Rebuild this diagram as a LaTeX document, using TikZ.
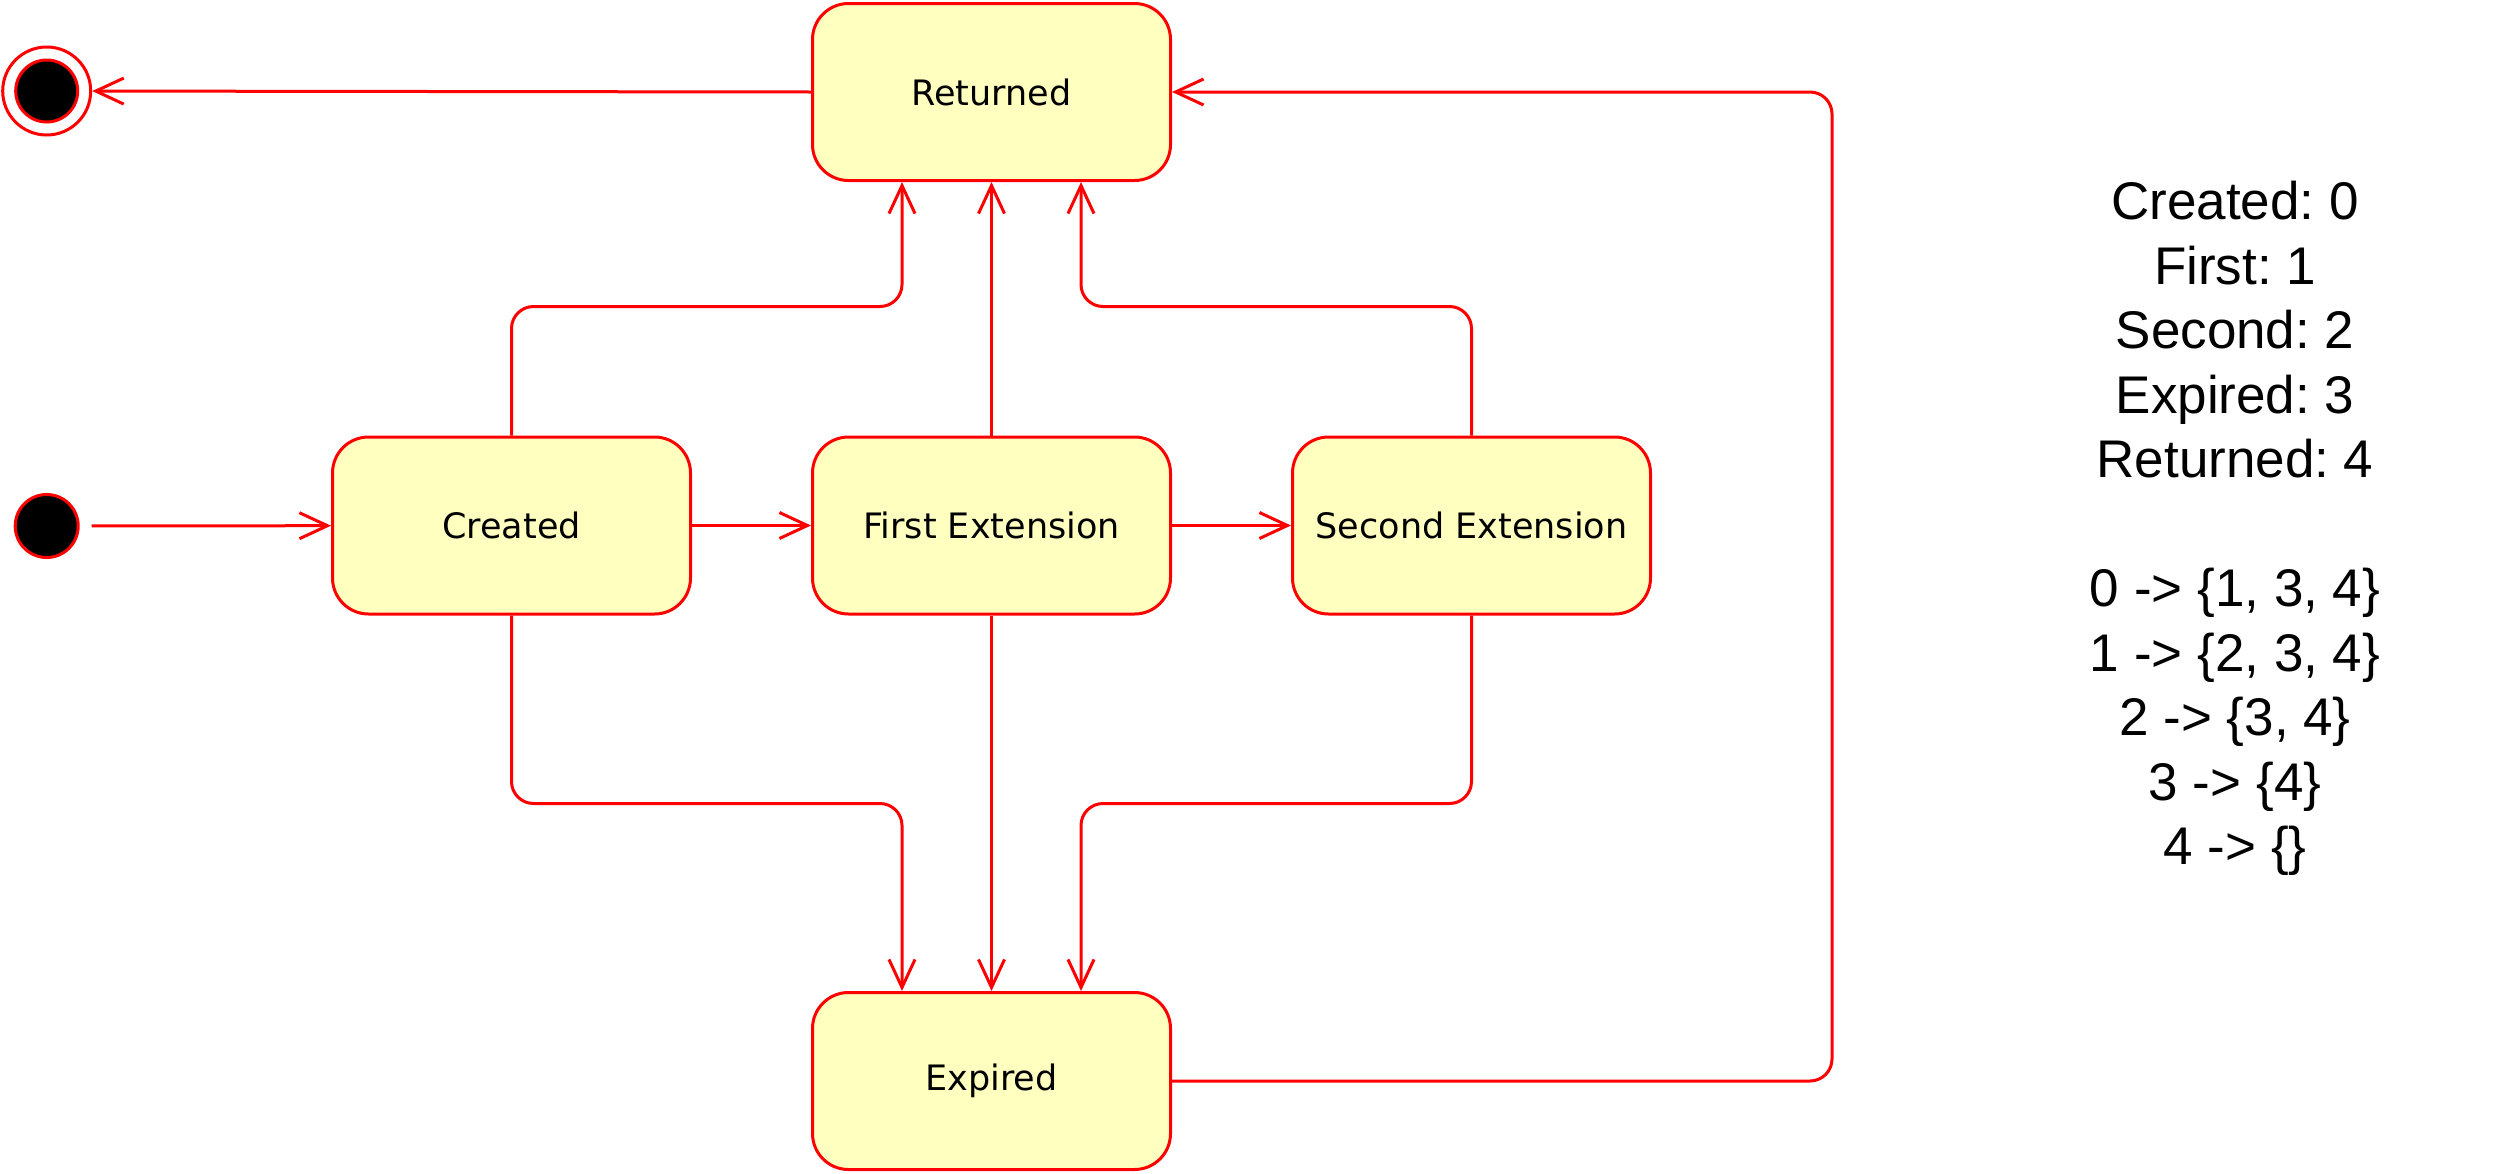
\documentclass[tikz,border=0pt]{standalone}
\usepackage{fontspec}
\setmainfont{DejaVu Sans}
\newfontfamily\arialfont{Liberation Sans}
\usetikzlibrary{arrows.meta}
\definecolor{umlred}{HTML}{FF0000}
\definecolor{umlfill}{HTML}{FFFFC0}
\frenchspacing
\begin{document}
\begin{tikzpicture}[x=1pt,y=-1pt,
  state/.style={draw=umlred, fill=umlfill, line width=3pt, rounded corners=36pt,
    minimum width=358pt, minimum height=177pt, inner sep=0pt,
    font=\fontsize{35}{42}\selectfont},
  conn/.style={draw=umlred, line width=3pt, rounded corners=22pt,
    -{Straight Barb[length=28pt,width=26pt]}},
  pseudo/.style={circle, draw=umlred, line width=3pt, inner sep=0pt}
]
\useasboundingbox (0,0) rectangle (2493,1173);
\fill[white] (0,0) rectangle (2493,1173);

\node[state] (ret) at (991.5,92) {Returned};
\node[state] (cre) at (511.5,525.5) {Created};
\node[state] (fir) at (991.5,525.5) {First Extension};
\node[state] (sec) at (1471.5,525.5) {Second Extension};
\node[state] (exp) at (991.5,1081) {Expired};

\node[pseudo, fill=black, minimum size=63pt] (start) at (46.7,526) {};
\node[pseudo, fill=white, minimum size=88pt] (final) at (46.7,91) {};
\node[pseudo, fill=black, minimum size=62pt] (finalin) at (46.7,91) {};

\coordinate (rt) at (1832,0);

\draw[conn, shorten <=12pt] (start) -- (cre);
\draw[conn] (cre) -- (fir);
\draw[conn] (fir) -- (sec);

\draw[conn] (cre.north) -- ++(0,-129) -| ([xshift=-89.5pt]ret.south);
\draw[conn] (fir.north) -- (ret.south);
\draw[conn] (sec.north) -- ++(0,-129) -| ([xshift=89.5pt]ret.south);

\draw[conn] (cre.south) -- ++(0,188) -| ([xshift=-89.5pt]exp.north);
\draw[conn] (fir.south) -- (exp.north);
\draw[conn] (sec.south) -- ++(0,188) -| ([xshift=89.5pt]exp.north);

\draw[conn] (exp.east) -| (rt |- ret.east) -- (ret.east);
\draw[conn] (ret.west) -- (final);

\node[font=\arialfont\fontsize{53}{64.5}\selectfont, align=center, anchor=north,
  inner sep=0pt] (legend) at (2235,181)
  {Created: 0\\First: 1\\Second: 2\\Expired: 3\\Returned: 4\\[64.5pt]%
   0 -> \{1, 3, 4\}\\1 -> \{2, 3, 4\}\\2 -> \{3, 4\}\\3 -> \{4\}\\4 -> \{\}};
\end{tikzpicture}
\end{document}
